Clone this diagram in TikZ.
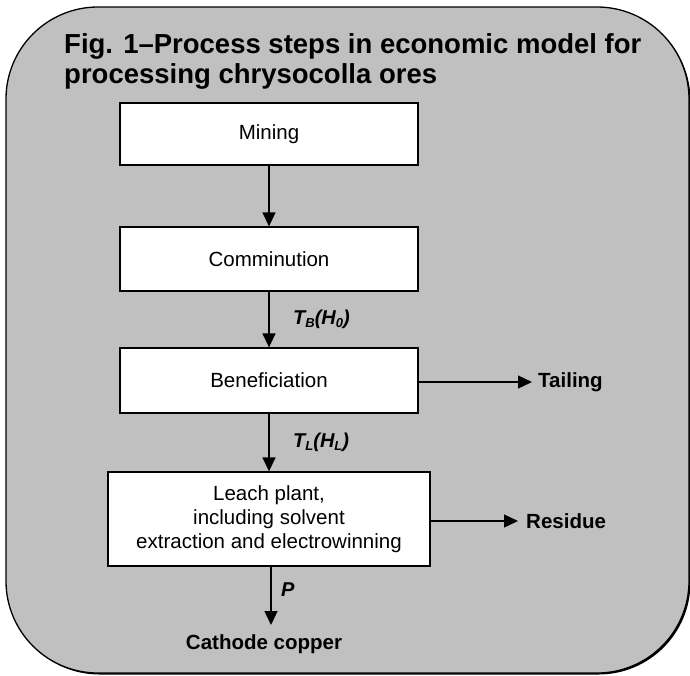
\documentclass[tikz,border=0pt]{standalone}
\usepackage{fontspec}
\setmainfont{Liberation Sans}
\usetikzlibrary{arrows.meta}
\definecolor{bggray}{HTML}{C0C0C0}
\newcommand\sbs[1]{\raisebox{-0.3ex}{\fontsize{13}{13}\selectfont #1}}
\tikzset{
  procbox/.style={draw=black, fill=white, line width=1.3pt, rectangle, inner sep=0pt, align=center,
    font=\fontsize{20.5}{24}\selectfont},
  flow/.style={line width=1.3pt, -{Triangle[length=14pt,width=13pt]}},
  outlbl/.style={font=\fontsize{20.5}{24}\selectfont\bfseries, inner sep=0pt},
  varlbl/.style={font=\fontsize{20}{24}\selectfont\bfseries\itshape, inner sep=0pt, anchor=west},
  titletext/.style={font=\fontsize{27.5}{30}\selectfont\bfseries, inner sep=0pt, anchor=west, align=left}
}
\begin{document}
\begin{tikzpicture}[x=1pt,y=-1pt]
\useasboundingbox (0,0) rectangle (690,675);
% background panel with shadow
\fill[black, rounded corners=92pt] (7.5,8.5) rectangle (690.5,674.5);
\filldraw[fill=bggray, draw=black, line width=1.3pt, rounded corners=92pt] (6,7) rectangle (689,673);
% title
\node[titletext] (title) at (64,61) {Fig. 1--Process steps in economic model for\\processing chrysocolla ores};
% boxes
\node[procbox, minimum width=298pt, minimum height=62pt] (mining) at (269,134) {Mining};
\node[procbox, minimum width=298pt, minimum height=64pt] (comm) at (269,259) {Comminution};
\node[procbox, minimum width=298pt, minimum height=65pt] (benef) at (269,380.5) {Beneficiation};
\node[procbox, minimum width=322pt, minimum height=94pt] (leach) at (269,519) {Leach plant,\\including solvent\\extraction and electrowinning};
% outputs
\node[outlbl, anchor=west] (tailing) at (538,382) {Tailing};
\node[outlbl, anchor=west] (residue) at (526,521) {Residue};
\node[outlbl] (cathode) at (264,644) {Cathode copper};
% variable labels
\node[varlbl] (tb) at (293,319) {T\sbs{B}(H\sbs{0})};
\node[varlbl] (tl) at (293,442) {T\sbs{L}(H\sbs{L})};
\node[varlbl] (p) at (281,590) {P};
% connectors
\draw[flow] (mining.south) -- (comm.north);
\draw[flow] (comm.south) -- (benef.north);
\draw[flow] (benef.south) -- (leach.north);
\draw[flow] (leach.south -| 271,0) -- (271,625) coordinate (pend);
\draw[flow] (benef.east |- tailing.west) -- ([xshift=-6pt]tailing.west);
\draw[flow] (leach.east |- residue.west) -- ([xshift=-8pt]residue.west);
\end{tikzpicture}
\end{document}
